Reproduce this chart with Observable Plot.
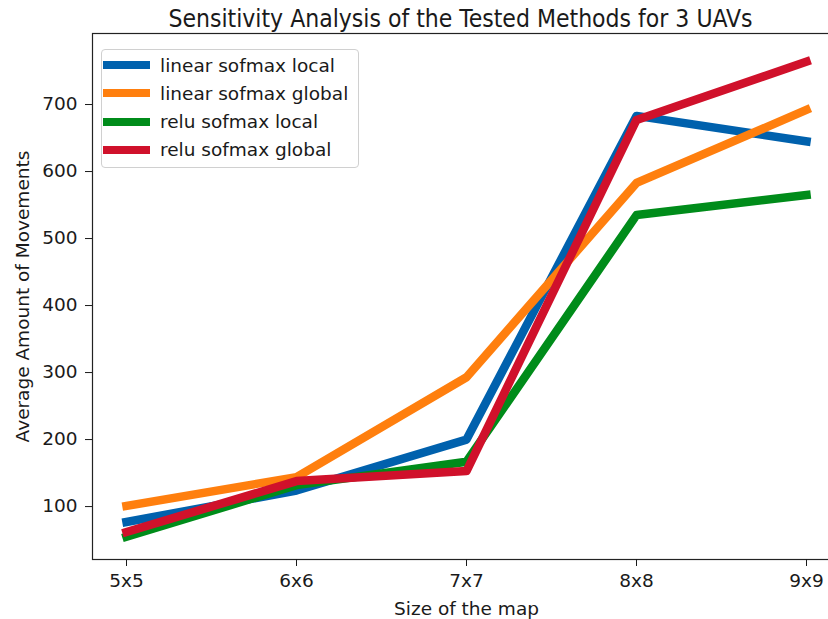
<!DOCTYPE html>
<html><head><meta charset="utf-8">
<script src="https://cdn.jsdelivr.net/npm/d3@7"></script>
<script src="https://cdn.jsdelivr.net/npm/@observablehq/plot@0.6"></script>
<style>
body{margin:0;overflow:hidden;background:#fff;}
#wrap{position:relative;width:828px;height:619px;overflow:hidden;font-family:"DejaVu Sans",sans-serif;}
#wrap svg{max-width:none !important;position:absolute;left:0;top:0;}
#title{position:absolute;left:0;width:921px;top:4px;text-align:center;font-size:24.5px;line-height:normal;font-stretch:condensed;color:#1a1a1a;white-space:nowrap;}
#legend{position:absolute;left:101px;top:49px;width:256px;height:117px;border:1px solid #d0d0d0;border-radius:4px;background:rgba(255,255,255,0.85);}
.row{position:absolute;left:1px;height:20px;display:flex;align-items:center;font-size:18.5px;color:#1a1a1a;white-space:nowrap;}
.sw{width:47px;height:8px;margin-right:10px;}
</style></head><body><div id="wrap"><div id="title"></div></div>
<script>
const categories = ["5x5", "6x6", "7x7", "8x8", "9x9"];
const seriesNames = ["linear sofmax local", "linear sofmax global", "relu sofmax local", "relu sofmax global"];
const linearLocal  = [77, 124, 200, 683, 645];
const linearGlobal = [101, 144, 293, 583, 692];
const reluLocal    = [55, 132, 167, 535, 565];
const reluGlobal   = [62, 138, 153, 677, 764];
const colors = ["#0061ad", "#ff7f0e", "#008c1a", "#d0112b"];
const titleText = "Sensitivity Analysis of the Tested Methods for 3 UAVs";
const xLabel = "Size of the map";
const yLabel = "Average Amount of Movements";
const yTicks = [100, 200, 300, 400, 500, 600, 700];

const allSeries = [linearLocal, linearGlobal, reluLocal, reluGlobal];
const rows = [];
allSeries.forEach((vals, s) => vals.forEach((v, i) => rows.push({series: seriesNames[s], i, v})));

const plot = Plot.plot({
  width: 840, height: 619,
  marginLeft: 92, marginRight: 0, marginTop: 33, marginBottom: 60,
  style: {fontFamily: "DejaVu Sans, sans-serif", fontSize: "18.5px", color: "#1a1a1a", background: "white", overflow: "visible", maxWidth: "none"},
  x: {type: "linear", domain: [-0.2, 4.2]},
  y: {domain: [21, 806]},
  color: {domain: seriesNames, range: colors},
  marks: [
    Plot.frame({stroke: "#222", strokeWidth: 1.2}),
    Plot.axisX({ticks: [0, 1, 2, 3, 4], tickFormat: i => categories[i], tickSize: 7, tickPadding: 7, label: xLabel, labelAnchor: "center", labelArrow: "none", labelOffset: 55, fontSize: 18.5}),
    Plot.axisY({ticks: yTicks, tickSize: 7, tickPadding: 8, label: yLabel, labelAnchor: "center", labelArrow: "none", labelOffset: 77, fontSize: 18.5}),
    Plot.line(rows, {x: "i", y: "v", z: "series", stroke: "series", strokeWidth: 8.5, strokeLinecap: "square", strokeLinejoin: "round"})
  ]
});
const wrap = document.getElementById("wrap");
wrap.insertBefore(plot, wrap.firstChild);
document.getElementById("title").textContent = titleText;

const leg = document.createElement("div");
leg.id = "legend";
seriesNames.forEach((n, k) => {
  const r = document.createElement("div");
  r.className = "row";
  r.style.top = (5 + k * 28.3) + "px";
  const sw = document.createElement("div");
  sw.className = "sw"; sw.style.background = colors[k];
  const t = document.createElement("span"); t.textContent = n;
  r.appendChild(sw); r.appendChild(t);
  leg.appendChild(r);
});
wrap.appendChild(leg);
</script></body></html>
